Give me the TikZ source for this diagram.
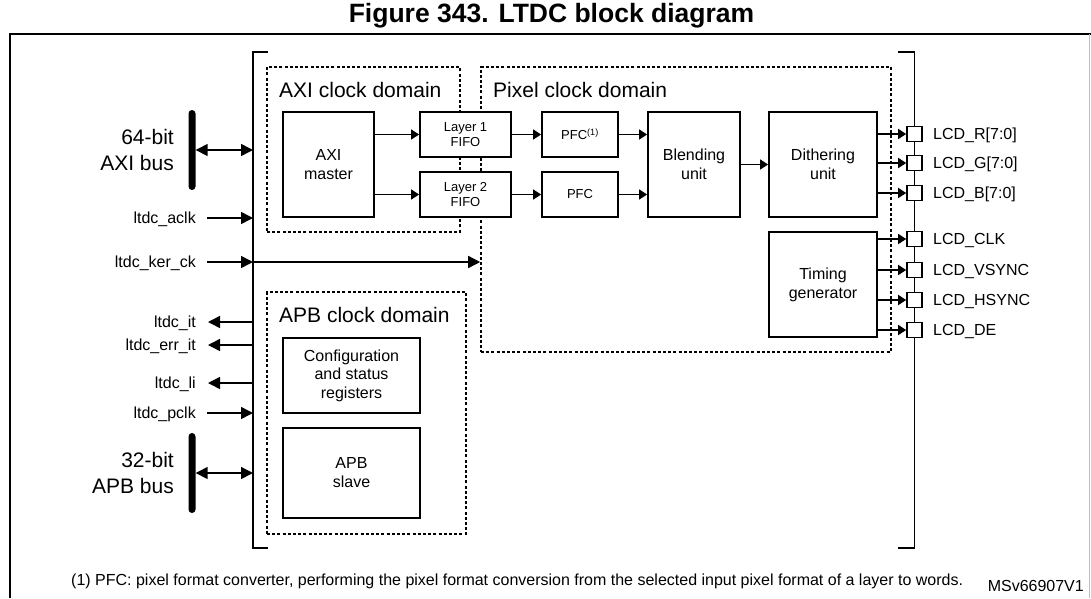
\documentclass[tikz,border=0pt]{standalone}
\usepackage{fontspec}
\setmainfont{Liberation Sans}
\usetikzlibrary{arrows.meta}
\newcommand\myfs[2]{\fontsize{#1}{#2}\selectfont}
\tikzset{
  blk/.style={draw, fill=white, line width=1.8pt, inner sep=0pt, align=center},
  bigt/.style={font=\myfs{16}{19}},
  smallt/.style={font=\myfs{13}{15}},
  dom/.style={draw, line width=1.6pt, dash pattern=on 3pt off 2.2pt, inner sep=0pt},
  domlab/.style={anchor=west, inner sep=0pt, text height=15pt, text depth=0pt, font=\myfs{21}{25}},
  arr/.style={line width=1.5pt, -{Triangle[length=8pt,width=10pt]}},
  arrb/.style={line width=1.5pt, -{Triangle[length=12pt,width=12pt]}},
  darr/.style={line width=1.5pt, {Triangle[length=12pt,width=12pt]}-{Triangle[length=12pt,width=12pt]}},
  sigl/.style={anchor=east, inner sep=0pt, text height=11.5pt, text depth=0pt, font=\myfs{16}{19}},
  sigr/.style={anchor=west, inner sep=0pt, text height=11.5pt, text depth=0pt, font=\myfs{16}{19}},
  pinbox/.style={draw, fill=white, line width=1.6pt, minimum size=15pt, inner sep=0pt},
  busbar/.style={fill=black, rounded corners=3.5pt, minimum width=7pt, minimum height=80pt, inner sep=0pt},
  buslab/.style={anchor=east, align=right, inner sep=0pt, font=\myfs{21}{25.5}},
  bracket/.style={line width=1.8pt},
}
\begin{document}
\begin{tikzpicture}[x=1pt,y=-1pt]
\useasboundingbox (0,0) rectangle (1091,598);
% frame
\draw[line width=2.2pt] (10,598) -- (10,34) -- (1091,34);
\draw[black!25, line width=0.8pt] (1089.5,34) -- (1089.5,598);
\node[font=\bfseries\myfs{26.5}{30}, inner sep=0pt] (title) at (551.5,16) {Figure 343. LTDC block diagram};

% brackets
\draw[bracket] (268,52) -- (253,52) -- (253,548) -- (268,548);
\draw[bracket] (898,52) -- (914.5,52) -- (914.5,548) -- (898,548);
\coordinate (brL) at (253,52);
\coordinate (brR) at (914.5,52);

% domains
\node[dom, minimum width=193, minimum height=165] (axid) at (363.5,149.5) {};
\node[dom, minimum width=410, minimum height=285] (pixd) at (686,209.5) {};
\node[dom, minimum width=199, minimum height=242] (apbd) at (366.5,413) {};
\node[domlab] (axilab) at (279,90) {AXI clock domain};
\node[domlab] (pixlab) at (493,90) {Pixel clock domain};
\node[domlab] (apblab) at (279,315) {APB clock domain};

% blocks
\node[blk, bigt, minimum width=91, minimum height=105] (axim) at (328.5,164.5) {AXI\\master};
\node[blk, smallt, minimum width=91, minimum height=45] (fifo1) at (465.5,134.5) {Layer 1\\FIFO};
\node[blk, smallt, minimum width=91, minimum height=45] (fifo2) at (465.5,194.5) {Layer 2\\FIFO};
\node[blk, smallt, minimum width=76, minimum height=45] (pfc1) at (580,134.5) {PFC\textsuperscript{(1)}};
\node[blk, smallt, minimum width=76, minimum height=45] (pfc2) at (580,194.5) {PFC};
\node[blk, bigt, minimum width=92, minimum height=105] (blend) at (694,164.5) {Blending\\unit};
\node[blk, bigt, minimum width=108, minimum height=105] (dither) at (823,164.5) {Dithering\\unit};
\node[blk, bigt, minimum width=108, minimum height=105] (timing) at (823,284.5) {Timing\\generator};
\node[blk, bigt, minimum width=137, minimum height=75, font=\myfs{16}{18.5}] (config) at (351.5,375.5) {Configuration\\and status\\registers};
\node[blk, bigt, minimum width=137, minimum height=90] (apbs) at (351.5,473) {APB\\slave};

% internal connectors
\draw[arr] (axim.east |- fifo1) -- (fifo1.west);
\draw[arr] (axim.east |- fifo2) -- (fifo2.west);
\draw[arr] (fifo1) -- (pfc1);
\draw[arr] (fifo2) -- (pfc2);
\draw[arr] (pfc1.east) -- (blend.west |- pfc1);
\draw[arr] (pfc2.east) -- (blend.west |- pfc2);
\draw[arr] (blend) -- (dither);

% output pins
\foreach \n/\y/\t/\src in {pR/134/LCD\_R[7:0]/dither, pG/163/LCD\_G[7:0]/dither, pB/193/LCD\_B[7:0]/dither,
  pC/239/LCD\_CLK/timing, pV/270/LCD\_VSYNC/timing, pH/300/LCD\_HSYNC/timing, pD/330/LCD\_DE/timing}{
  \node[pinbox] (\n) at (914.5,\y) {};
  \draw[arr] (\src.east |- \n) -- (\n.west);
  \node[sigr] (\n L) at (933,\y) {\t};
}

% left signals
\node[sigl] (aclkL) at (196,218) {ltdc\_aclk};
\draw[arrb] ([xshift=11pt]aclkL.east) -- (aclkL.east -| brL);
\node[sigl] (kerL) at (196,262) {ltdc\_ker\_ck};
\draw[arrb] ([xshift=11pt]kerL.east) -- (kerL.east -| brL);
\draw[arrb] (kerL.east -| brL) -- (kerL.east -| pixd.west);
\node[sigl] (itL) at (196,322) {ltdc\_it};
\draw[arrb] (itL.east -| brL) -- ([xshift=12pt]itL.east);
\node[sigl] (errL) at (196,345) {ltdc\_err\_it};
\draw[arrb] (errL.east -| brL) -- ([xshift=12pt]errL.east);
\node[sigl] (liL) at (196,383) {ltdc\_li};
\draw[arrb] (liL.east -| brL) -- ([xshift=12pt]liL.east);
\node[sigl] (pclkL) at (196,413) {ltdc\_pclk};
\draw[arrb] ([xshift=11pt]pclkL.east) -- (pclkL.east -| brL);

% buses
\node[busbar] (axibar) at (192,150) {};
\node[buslab] (axibl) at (174,150) {64-bit\\AXI bus};
\draw[darr] (axibar.east) -- (axibar.east -| brL);
\node[busbar] (apbbar) at (192,473) {};
\node[buslab] (apbbl) at (174,473) {32-bit\\APB bus};
\draw[darr] (apbbar.east) -- (apbbar.east -| brL);

% footnote
\node[anchor=base west, inner sep=0pt, font=\myfs{16}{19}] (fn) at (71,585) {(1) PFC: pixel format converter, performing the pixel format conversion from the selected input pixel format of a layer to words.};
\node[anchor=base east, inner sep=0pt, font=\myfs{16}{19}] (msv) at (1084,591) {MSv66907V1};
\end{tikzpicture}
\end{document}
